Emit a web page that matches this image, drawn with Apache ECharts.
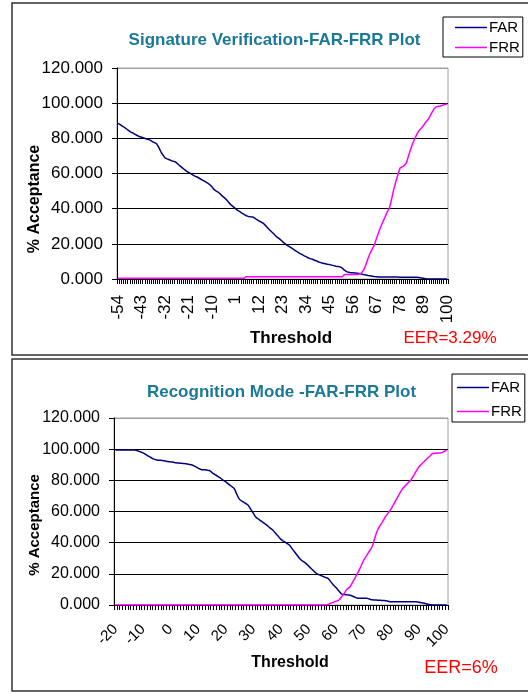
<!DOCTYPE html>
<html>
<head>
<meta charset="utf-8">
<script src="https://cdn.jsdelivr.net/npm/echarts@6/dist/echarts.min.js"></script>
<style>
  html, body { margin: 0; padding: 0; background: #fff; }
  #viz { width: 528px; height: 694px; }
</style>
</head>
<body>
<div id="viz"></div>
<script>
// FAR / FRR curves

// thresholds -54 .. 100 (top plot) and -20 .. 100 (bottom plot)
function range(a, b) {
    var out = [];
    for (var v = a; v <= b; v++) out.push(String(v));
    return out;
}
const sigThresholds = range(-54, 100);
const recThresholds = range(-20, 100);

const yTicks = [0, 20, 40, 60, 80, 100, 120];

const sigFAR = [
    88.5, 87.8, 86.9, 86.2, 85.3, 84.4, 83.5, 83.0, 82.3, 81.6, 81.0,
    80.6, 80.2, 79.8, 79.4, 79.0, 78.2, 77.6, 77.0, 75.0, 72.5, 70.5,
    68.9, 68.3, 67.8, 67.3, 66.9, 66.5, 65.4, 64.3, 63.3, 62.3, 61.4,
    60.6, 60.0, 59.2, 58.5, 58.0, 57.3, 56.6, 55.9, 55.2, 54.5, 53.6,
    52.4, 50.8, 50.0, 49.3, 48.2, 47.0, 46.0, 44.8, 43.3, 42.0, 41.0,
    40.0, 39.0, 38.3, 37.5, 36.8, 36.0, 35.6, 35.4, 35.3, 34.6, 33.8,
    33.0, 32.4, 31.7, 30.5, 29.2, 27.9, 26.7, 25.6, 24.3, 23.4, 22.4,
    21.3, 20.3, 19.3, 18.6, 17.8, 17.0, 16.2, 15.4, 14.6, 14.0, 13.3,
    12.7, 12.1, 11.6, 11.2, 10.7, 10.2, 9.7, 9.3, 9.0, 8.7, 8.4,
    8.2, 7.9, 7.6, 7.3, 7.1, 6.9, 6.2, 5.0, 4.2, 3.8, 3.6,
    3.5, 3.4, 3.3, 3.2, 2.8, 2.5, 2.3, 2.0, 1.8, 1.6, 1.4,
    1.3, 1.2, 1.2, 1.2, 1.1, 1.1, 1.1, 1.1, 1.1, 1.1, 1.1,
    1.0, 1.0, 1.0, 1.0, 1.0, 1.0, 1.0, 1.0, 1.0, 0.8, 0.6,
    0.4, 0.2, 0, 0, 0, 0, 0, 0, 0, 0, 0,
    0
];
const sigFRR = [
    0.4, 0.4, 0.4, 0.4, 0.4, 0.4, 0.4, 0.4, 0.4, 0.4, 0.4,
    0.4, 0.4, 0.4, 0.4, 0.4, 0.4, 0.4, 0.4, 0.4, 0.4, 0.4,
    0.4, 0.4, 0.4, 0.4, 0.4, 0.4, 0.4, 0.4, 0.4, 0.4, 0.4,
    0.4, 0.4, 0.4, 0.4, 0.4, 0.4, 0.4, 0.4, 0.4, 0.4, 0.4,
    0.4, 0.4, 0.4, 0.4, 0.4, 0.4, 0.4, 0.4, 0.4, 0.4, 0.4,
    0.4, 0.4, 0.4, 0.4, 0.4, 1.3, 1.3, 1.3, 1.3, 1.3, 1.3,
    1.3, 1.3, 1.3, 1.3, 1.3, 1.3, 1.3, 1.3, 1.3, 1.3, 1.3,
    1.3, 1.3, 1.3, 1.3, 1.3, 1.3, 1.3, 1.3, 1.3, 1.3, 1.3,
    1.3, 1.3, 1.3, 1.3, 1.3, 1.3, 1.3, 1.3, 1.3, 1.3, 1.3,
    1.3, 1.3, 1.3, 1.3, 1.3, 1.3, 1.3, 2.6, 2.6, 2.6, 2.6,
    2.6, 2.6, 2.6, 2.8, 3.5, 5.1, 8.0, 11.5, 14.6, 17.0, 19.3,
    23.0, 26.5, 29.7, 32.5, 35.2, 38.0, 40.2, 44.9, 50.5, 55.0, 59.1,
    63.0, 63.8, 64.5, 66.0, 70.0, 73.8, 77.2, 80.0, 82.5, 84.5, 85.7,
    87.3, 89.0, 90.4, 92.5, 94.8, 96.8, 98.0, 98.2, 98.4, 98.8, 99.2,
    99.5
];

const recFAR = [
    99.5, 99.5, 99.5, 99.5, 99.5, 99.5, 99.5, 99.4, 99.0, 98.3,
    97.6, 96.6, 95.5, 94.5, 93.6, 93.1, 92.9, 92.7, 92.4, 92.1,
    91.9, 91.6, 91.3, 91.1, 90.9, 90.8, 90.5, 90.1, 89.7, 88.8,
    87.8, 87.0, 86.8, 86.6, 86.3, 85.0, 83.8, 82.7, 81.5, 80.2,
    79.0, 77.6, 76.2, 74.8, 71.0, 67.8, 66.5, 65.3, 64.1, 61.5,
    58.8, 56.2, 54.9, 53.6, 52.4, 51.0, 49.5, 48.1, 46.1, 44.1,
    42.1, 40.9, 39.7, 38.5, 36.2, 33.9, 31.6, 29.3, 28.0, 26.7,
    25.0, 23.3, 21.6, 20.1, 19.3, 18.5, 17.7, 17.1, 15.0, 12.8,
    11.0, 9.0, 7.0, 6.7, 6.5, 6.3, 5.6, 4.9, 4.3, 4.3,
    4.3, 4.3, 3.8, 3.3, 3.2, 3.1, 3.0, 2.9, 2.8, 2.3,
    2.1, 2.1, 2.1, 2.1, 2.1, 2.1, 2.1, 2.1, 2.1, 2.1,
    1.8, 1.4, 1.1, 0.6, 0.2, 0, 0, 0, 0, 0,
    0
];
const recFRR = [
    0, 0, 0, 0, 0, 0, 0, 0, 0, 0,
    0, 0, 0, 0, 0, 0, 0, 0, 0, 0,
    0, 0, 0, 0, 0, 0, 0, 0, 0, 0,
    0, 0, 0, 0, 0, 0, 0, 0, 0, 0,
    0, 0, 0, 0, 0, 0, 0, 0, 0, 0,
    0, 0, 0, 0, 0, 0, 0, 0, 0, 0,
    0, 0, 0, 0, 0, 0, 0, 0, 0, 0,
    0, 0, 0, 0, 0, 0, 0, 0.3, 1.1, 1.8,
    2.5, 3.2, 5.3, 7.8, 10.2, 11.7, 14.8, 18.0, 21.3, 25.0,
    28.8, 31.7, 34.5, 37.4, 43.0, 48.1, 51.2, 54.1, 57.0, 59.5,
    62.0, 65.2, 68.4, 71.6, 74.5, 76.5, 78.3, 80.1, 83.0, 85.9,
    88.7, 90.5, 92.3, 94.0, 95.6, 97.2, 97.4, 97.5, 97.6, 98.5,
    99.4
];

const FONT = '"Liberation Sans", Arial, sans-serif';
const FAR_COLOR = '#000080';
const FRR_COLOR = '#ff00ff';
const TITLE_COLOR = '#1b7896';

function makeYAxis(gridIndex, fontSize) {
    return {
        type: 'value',
        gridIndex: gridIndex,
        min: yTicks[0],
        max: yTicks[yTicks.length - 1],
        interval: 20,
        axisLine: { show: true, lineStyle: { color: '#000', width: 1 } },
        axisTick: { show: true, length: 5, lineStyle: { color: '#000' } },
        axisLabel: {
            color: '#000', fontFamily: FONT, fontSize: fontSize, margin: 14,
            formatter: function (v) { return v.toFixed(3); }
        },
        splitLine: {
            show: true,
            lineStyle: { color: ['#000', '#000', '#000', '#000', '#000', '#000', '#a0a0a0'], width: 1.2 }
        }
    };
}

function makeXAxis(gridIndex, cats, labelEvery, rotate, fontSize, margin) {
    return {
        type: 'category',
        gridIndex: gridIndex,
        data: cats,
        boundaryGap: true,
        axisLine: { show: true, lineStyle: { color: '#000', width: 1.2 } },
        axisTick: { show: true, interval: 0, length: 5, lineStyle: { color: '#000' } },
        axisLabel: {
            interval: labelEvery, rotate: rotate, color: '#000',
            fontFamily: FONT, fontSize: fontSize, margin: margin
        },
        splitLine: { show: false }
    };
}

function lineSeries(name, data, color, axisIndex, smooth) {
    return {
        name: name,
        type: 'line',
        xAxisIndex: axisIndex,
        yAxisIndex: axisIndex,
        data: data,
        symbol: 'none',
        smooth: smooth,
        lineStyle: { color: color, width: 1.5 },
        itemStyle: { color: color },
        animation: false
    };
}

function legendBox(left, top, padding, gap) {
    return {
        data: ['FAR', 'FRR'],
        orient: 'vertical',
        left: left,
        top: top,
        padding: padding,
        itemGap: gap,
        itemWidth: 32,
        itemHeight: 1.5,
        icon: 'rect',
        borderColor: '#000',
        borderWidth: 1,
        backgroundColor: '#fff',
        textStyle: { color: '#000', fontFamily: FONT, fontSize: 15, lineHeight: 15, padding: [0, 0, 0, -3] }
    };
}

function label(text, x, y, size, color, bold, rot) {
    return {
        type: 'text',
        x: x, y: y,
        rotation: rot || 0,
        style: {
            text: text,
            fill: color,
            font: (bold ? 'bold ' : '') + size + 'px ' + FONT,
            textAlign: 'center',
            textVerticalAlign: 'middle'
        }
    };
}

var myChart = echarts.init(document.getElementById('viz'));

var option = {
    backgroundColor: '#fff',
    animation: false,
    grid: [
        { left: 117, top: 68, width: 331, height: 211, show: true, borderColor: '#a0a0a0', borderWidth: 1, backgroundColor: '#fff' },
        { left: 114, top: 418, width: 334, height: 187, show: true, borderColor: '#a0a0a0', borderWidth: 1, backgroundColor: '#fff' }
    ],
    xAxis: [
        makeXAxis(0, sigThresholds, 10, 90, 17, 16),
        makeXAxis(1, recThresholds, 9, 45, 15, 22)
    ],
    yAxis: [
        makeYAxis(0, 17),
        makeYAxis(1, 16)
    ],
    legend: [
        legendBox(443, 17, [3, 3, 2, 12], 5),
        legendBox(452, 374, [6, 3, 3, 5], 9)
    ],
    series: [
        lineSeries('FAR', sigFAR, FAR_COLOR, 0, false),
        lineSeries('FRR', sigFRR, FRR_COLOR, 0, false),
        lineSeries('FAR', recFAR, FAR_COLOR, 1, true),
        lineSeries('FRR', recFRR, FRR_COLOR, 1, true)
    ],
    graphic: [
        { type: 'rect', shape: { x: 12, y: 3, width: 530, height: 352 }, style: { fill: 'none', stroke: '#333', lineWidth: 1.5 } },
        { type: 'rect', shape: { x: 12, y: 359, width: 530, height: 332 }, style: { fill: 'none', stroke: '#333', lineWidth: 1.5 } },
        label('Signature Verification-FAR-FRR Plot', 274.5, 40, 17, TITLE_COLOR, true),
        label('Recognition Mode -FAR-FRR Plot', 281.5, 392, 17, TITLE_COLOR, true),
        label('% Acceptance', 35, 199, 16, '#000', true, Math.PI / 2),
        label('% Acceptance', 35, 525, 15, '#000', true, Math.PI / 2),
        label('Threshold', 291, 338, 17, '#000', true),
        label('Threshold', 290, 663, 16, '#000', true),
        label('EER=3.29%', 450, 338, 17, '#ff0000', false),
        label('EER=6%', 461, 668, 18, '#ff0000', false)
    ]
};

myChart.setOption(option);
</script>
</body>
</html>
